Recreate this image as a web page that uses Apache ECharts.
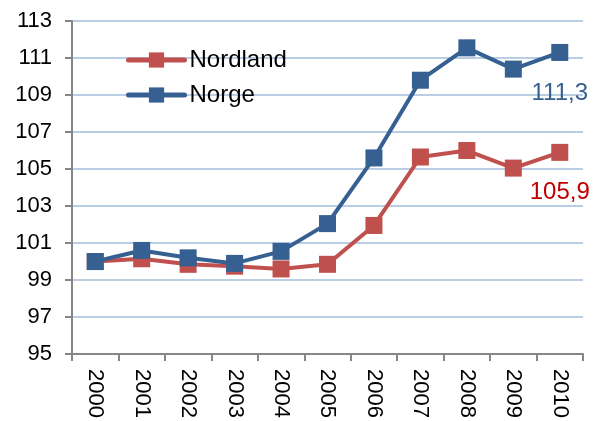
<!DOCTYPE html>
<html>
<head>
<meta charset="utf-8">
<script src="https://cdn.jsdelivr.net/npm/echarts@6/dist/echarts.min.js"></script>
<style>
html,body{margin:0;padding:0;background:#fff;}
#chart{width:594px;height:421px;}
</style>
</head>
<body>
<div id="chart"></div>
<script>
const years = ['2000','2001','2002','2003','2004','2005','2006','2007','2008','2009','2010'];
const nordland = [100.0, 100.15, 99.85, 99.75, 99.6, 99.85, 101.95, 105.65, 106.0, 105.05, 105.9];
const norge = [100.0, 100.6, 100.2, 99.9, 100.55, 102.05, 105.6, 109.8, 111.55, 110.4, 111.3];
const yMin = 95, yMax = 113, yStep = 2;

const font = 'Liberation Sans, Arial, sans-serif';

function withEndLabel(arr, color, dist) {
  return arr.map((v, i) => i === arr.length - 1 ? {
    value: v,
    label: {
      show: true, position: 'bottom', distance: dist,
      formatter: p => String(p.value).replace('.', ','),
      color: color, fontSize: 24, fontFamily: font
    }
  } : v);
}

const chart = echarts.init(document.getElementById('chart'), null, {renderer: 'canvas'});
chart.setOption({
  animation: false,
  backgroundColor: '#ffffff',
  grid: {left: 72, top: 21, right: 11, bottom: 66, containLabel: false},
  legend: {
    orient: 'vertical',
    left: 121, top: 43,
    itemWidth: 56, itemHeight: 19, itemGap: 11,
    itemStyle: {borderWidth: 0},
    lineStyle: {width: 5, cap: 'round'},
    textStyle: {fontSize: 24, fontFamily: font, color: '#000', lineHeight: 24},
    data: ['Nordland', 'Norge']
  },
  xAxis: {
    type: 'category',
    data: years,
    boundaryGap: true,
    axisLine: {lineStyle: {color: '#868686', width: 2}},
    axisTick: {show: true, length: 7, lineStyle: {color: '#868686', width: 2}},
    axisLabel: {rotate: -90, margin: 15, fontSize: 22, fontFamily: font, color: '#000'}
  },
  yAxis: {
    type: 'value',
    min: yMin, max: yMax, interval: yStep,
    axisLine: {show: true, lineStyle: {color: '#868686', width: 2}},
    axisTick: {show: true, length: 7, lineStyle: {color: '#868686', width: 2}},
    axisLabel: {margin: 20, fontSize: 22, fontFamily: font, color: '#000'},
    splitLine: {show: true, lineStyle: {color: '#B9CDE5', width: 2}}
  },
  series: [
    {
      name: 'Nordland', type: 'line',
      data: withEndLabel(nordland, '#C00000', 20),
      symbol: 'rect', symbolSize: 17,
      lineStyle: {color: '#C0504D', width: 4},
      itemStyle: {color: '#C0504D'},
      z: 3
    },
    {
      name: 'Norge', type: 'line',
      data: withEndLabel(norge, '#376092', 20),
      symbol: 'rect', symbolSize: 17,
      lineStyle: {color: '#376092', width: 4},
      itemStyle: {color: '#376092'},
      z: 4
    }
  ]
});
</script>
</body>
</html>
